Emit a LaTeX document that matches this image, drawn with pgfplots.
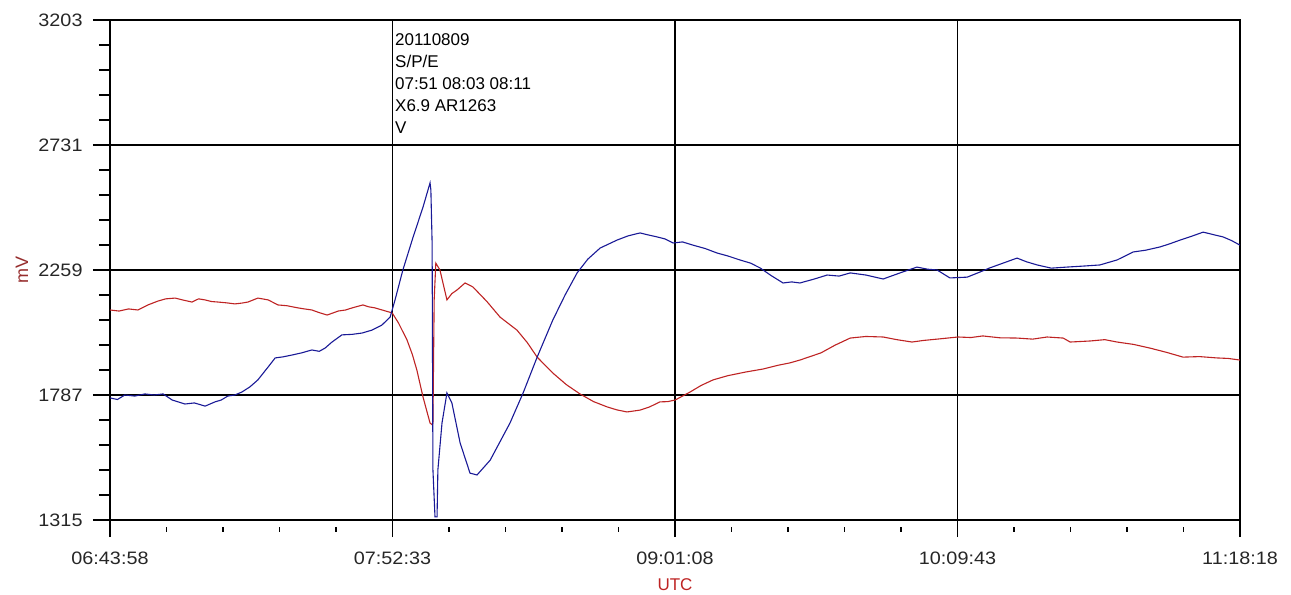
\documentclass[border=0pt]{standalone}
\usepackage{fontspec}
\setmainfont{Liberation Sans}
\usepackage{pgfplots}
\pgfplotsset{compat=1.18}

\definecolor{sigblue}{RGB}{25,25,150}
\definecolor{sigred}{RGB}{190,35,35}
\definecolor{labred}{RGB}{150,45,45}

\begin{document}
\begin{tikzpicture}
\begin{axis}[
  name=ax,
  scale only axis,
  width=1130bp, height=500bp,
  xmin=0, xmax=274.3333,
  ymin=1315, ymax=3203,
  xtick={0,68.5833,137.1667,205.75,274.3333},
  xticklabels={06:43:58,07:52:33,09:01:08,10:09:43,11:18:18},
  ytick={1315,1787,2259,2731,3203},
  yticklabels={1315,1787,2259,2731,3203},
  minor x tick num=4,
  minor y tick num=4,
  tick align=outside,
  xtick pos=bottom, ytick pos=left,
  major tick length=17bp,
  minor tick length=11bp,
  major x tick style={line width=1.6bp, black, solid},
  major y tick style={line width=1.6bp, black, solid},
  minor x tick style={line width=1.3bp, black, solid},
  minor y tick style={line width=1.3bp, black, solid},
  grid=major,
  major grid style={line width=1.3bp, black},
  axis line style={line width=1.5bp, black},
  tick label style={font=\fontsize{18bp}{20bp}\selectfont, text=black!85, xscale=1.1},
  yticklabel style={xshift=-6bp},
  xticklabel style={yshift=-11bp},
  clip=true,
]
% red trace
\addplot[sigred, line width=1.1bp] coordinates {
(0.0,2108) (2.2,2104) (4.5,2112) (6.8,2108) (9.2,2127) (11.7,2142) (13.5,2150) (15.8,2153)
(17.6,2146) (19.9,2138) (21.5,2150) (23.1,2146) (24.6,2140) (26.2,2138) (28.3,2135) (30.3,2131)
(32.0,2134) (33.5,2138) (35.9,2153) (37.0,2150) (38.4,2146) (40.8,2127) (43.0,2124) (45.6,2116)
(47.2,2112) (49.0,2108) (50.8,2098) (52.7,2089) (54.0,2096) (55.4,2104) (57.2,2108) (58.8,2116)
(61.4,2127) (62.8,2120) (64.3,2116) (66.5,2106) (68.5,2097)
(70.0,2060) (72.1,1995) (73.4,1940) (74.5,1881) (76.0,1779) (77.7,1681) (78.2,1675)
(78.4,1681) (78.7,2146) (79.1,2285) (80.1,2259) (81.8,2146) (83.0,2170) (84.2,2183) (86.2,2210)
(88.1,2195) (91.5,2140) (94.7,2081) (98.8,2032) (101.3,1985) (103.7,1930) (107.5,1870) (110.8,1826) (114.1,1791)
(117.4,1762) (120.7,1742) (123.0,1731) (125.5,1723) (128.7,1730) (131.0,1742) (133.5,1761) (135.4,1762) (137.2,1768) (140.8,1798)
(143.5,1823) (146.4,1844) (150.0,1860) (154.4,1874) (158.5,1885) (162.4,1900) (165.0,1908) (167.5,1919) (172.6,1946) (176.0,1975) (179.7,2002)
(183.5,2008) (187.7,2006) (191.0,1996) (194.7,1987) (197.5,1993) (200.8,1998) (205.9,2006) (209.0,2004) (211.9,2010) (216.0,2003) (220.2,2002)
(224.0,1998) (227.5,2006) (231.4,2002) (233.1,1987) (238.0,1991) (241.5,1996) (244.5,1987) (248.5,1978) (252.5,1964) (256.5,1948) (260.5,1930) (264.5,1932) (268.7,1927)
(271.5,1925) (274.3,1919)
};
% blue trace
\addplot[sigblue, line width=1.1bp] coordinates {
(0,1776) (1.8,1770) (3.6,1787) (6.0,1783) (8.5,1791) (10.7,1787) (12.9,1791) (15.1,1768) (18.2,1753)
(20.5,1757) (23.1,1745) (25.5,1761) (27.0,1768) (28.6,1783) (30.3,1787) (32.0,1798) (34.0,1818) (35.9,1844) (38.4,1893)
(40.1,1927) (42.0,1931) (44.2,1938) (46.5,1946) (49.0,1957) (50.8,1952) (52.2,1964)
(53.9,1987) (56.3,2014) (58.8,2016) (61.2,2021) (63.6,2032) (66.0,2051)
(68.0,2081) (69.2,2146) (71.1,2259) (73.6,2384) (76.0,2497) (77.7,2588) (77.9,2561)
(78.2,2361) (78.4,1504) (78.9,1327) (79.4,1327) (79.6,1504) (80.6,1681) (81.8,1795)
(83.0,1757) (85.0,1606) (87.4,1492) (89.1,1485) (92.3,1541) (97.1,1681) (100.3,1795)
(103.7,1930) (107.5,2070) (110.5,2165) (113.4,2248) (116.0,2300) (119.0,2342) (123.1,2372) (125.8,2388) (128.7,2399)
(130.5,2392) (132.8,2384) (134.8,2376) (136.7,2361) (139.0,2365) (141.5,2353) (144.5,2340) (147.4,2323) (150.0,2312) (152.9,2297) (155.5,2285) (157.8,2267)
(160.5,2238) (163.4,2210) (165.5,2214) (167.5,2210) (171.0,2225) (174.1,2240) (177.0,2236) (179.7,2248) (183.5,2240) (187.7,2225) (191.8,2248)
(195.9,2270) (198.5,2262) (200.8,2259) (203.9,2229) (208.1,2232) (211.0,2250) (213.6,2267) (217.0,2286) (220.2,2304)
(222.5,2290) (225.1,2278) (228.5,2266) (232.3,2270) (236.5,2274) (240.3,2278) (244.5,2297) (248.4,2327) (251.5,2334) (254.9,2346)
(257.3,2358) (259.8,2372) (262.5,2386) (265.4,2402) (268.0,2392) (270.2,2384) (272.3,2370) (274.3,2353)
};
\end{axis}
% x-axis tick marks below the frame
\foreach \i in {0,1,2,3,4}
  \draw[line width=1.8bp, black] ([xshift=\i*282.5bp, yshift=-4bp]ax.south west) -- ++(0,-13bp);
\foreach \i in {1,2,3,4,6,7,8,9,11,12,13,14,16,17,18,19}
  \draw[line width=1.3bp, black] ([xshift=\i*56.5bp, yshift=-7bp]ax.south west) -- ++(0,-5bp);
\node[anchor=north west, align=left, inner sep=0pt,
      font=\fontsize{17bp}{22bp}\selectfont]
  at ([xshift=285bp,yshift=-13bp]ax.north west)
  {20110809\\S/P/E\\07:51 08:03 08:11\\X6.9 AR1263\\V};
\node[rotate=90, text=labred, font=\fontsize{18bp}{20bp}\selectfont]
  at ([xshift=-88bp]ax.west) {mV};
\node[text=sigred, font=\fontsize{17bp}{20bp}\selectfont]
  at ([yshift=-65bp]ax.south) {UTC};
\pgfresetboundingbox
\path[use as bounding box] ([xshift=-110bp,yshift=-75bp]ax.south west)
  rectangle ([xshift=51bp,yshift=20bp]ax.north east);
\end{tikzpicture}
\end{document}
